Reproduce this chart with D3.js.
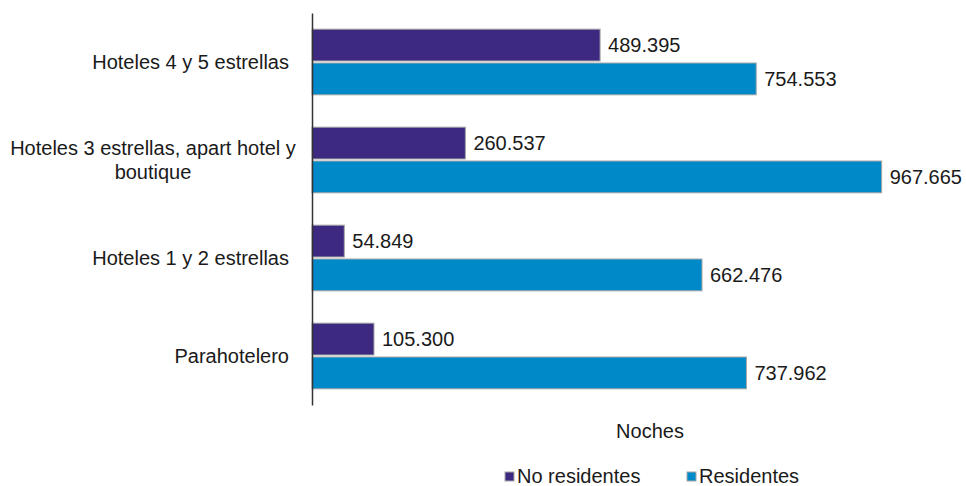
<!DOCTYPE html>
<html>
<head>
<meta charset="utf-8">
<script src="https://cdn.jsdelivr.net/npm/d3@7"></script>
<style>
  body { margin: 0; background: #fff; }
  text { font-family: "Liberation Sans", Arial, sans-serif; fill: #1a1a1a; }
</style>
</head>
<body>
<div id="chart"></div>
<script>
// categories (top to bottom) and series
var categories = ["Hoteles 4 y 5 estrellas", "Hoteles 3 estrellas, apart hotel y boutique", "Hoteles 1 y 2 estrellas", "Parahotelero"];
var catLines = [["Hoteles 4 y 5 estrellas"], ["Hoteles 3 estrellas, apart hotel y", "boutique"], ["Hoteles 1 y 2 estrellas"], ["Parahotelero"]];
var seriesNames = ["No residentes", "Residentes"];
var noResidentes = [489395, 260537, 54849, 105300];
var residentes = [754553, 967665, 662476, 737962];
var colors = ["#3d2a80", "#0089c8"];
var axisTitle = "Noches";

var width = 966, height = 486;
var plotLeft = 312, plotTop = 13, plotBottom = 405;

var fmt = function(v) { return d3.format(",")(v).replace(/,/g, "."); };

var svg = d3.select("#chart").append("svg")
    .attr("width", width)
    .attr("height", height);

// Set X
var xScale = d3.scaleLinear()
    .domain([0, 1000000])
    .range([plotLeft, plotLeft + 588.7]);

// Set Y (categories)
var yScale = d3.scaleBand()
    .domain(categories)
    .range([plotTop, plotBottom])
    .paddingInner(0.33)
    .paddingOuter(0.165);

var ySub = d3.scaleBand()
    .domain(seriesNames)
    .range([0, yScale.bandwidth()])
    .paddingInner(0.06);

var data = categories.map(function(c, i) {
    return {cat: c, values: [noResidentes[i], residentes[i]]};
});

var groups = svg.selectAll(".grp")
    .data(data)
    .enter().append("g")
    .attr("class", "grp")
    .attr("transform", function(d) { return "translate(0," + yScale(d.cat) + ")"; });

groups.selectAll("rect")
    .data(function(d) { return d.values.map(function(v, j) { return {s: seriesNames[j], v: v, j: j}; }); })
    .enter().append("rect")
    .attr("x", xScale(0))
    .attr("y", function(d) { return ySub(d.s); })
    .attr("width", function(d) { return xScale(d.v) - xScale(0); })
    .attr("height", ySub.bandwidth())
    .attr("fill", function(d) { return colors[d.j]; })
    .attr("stroke", "#a6a6a6")
    .attr("stroke-width", 1);

groups.selectAll(".val")
    .data(function(d) { return d.values.map(function(v, j) { return {s: seriesNames[j], v: v}; }); })
    .enter().append("text")
    .attr("class", "val")
    .attr("x", function(d) { return xScale(d.v) + 8; })
    .attr("y", function(d) { return ySub(d.s) + ySub.bandwidth() / 2; })
    .attr("dy", "0.35em")
    .style("font-size", "20px")
    .text(function(d) { return fmt(d.v); });

// vertical axis line
var yAxis = d3.axisLeft(yScale).tickSize(0).tickFormat("");
var axisG = svg.append("g")
    .attr("transform", "translate(" + plotLeft + ",0)")
    .call(yAxis);
axisG.select(".domain").attr("stroke", "#333").attr("stroke-width", 1.5);

// category labels
svg.selectAll(".cat")
    .data(categories)
    .enter().append("text")
    .attr("class", "cat")
    .style("font-size", "20px")
    .each(function(c, i) {
        var t = d3.select(this);
        var lines = catLines[i];
        var cy = yScale(c) + yScale.bandwidth() / 2;
        var lh = 24;
        var y0 = cy - (lines.length - 1) * lh / 2;
        if (lines.length == 1) {
            t.attr("text-anchor", "end")
             .attr("x", 289)
             .attr("y", y0)
             .attr("dy", "0.35em")
             .text(lines[0]);
        } else {
            t.attr("text-anchor", "middle");
            lines.forEach(function(l, k) {
                t.append("tspan")
                 .attr("x", 153)
                 .attr("y", y0 + k * lh)
                 .attr("dy", "0.35em")
                 .text(l);
            });
        }
    });

// axis title
svg.append("text")
    .attr("x", 650)
    .attr("y", 438)
    .attr("text-anchor", "middle")
    .style("font-size", "20px")
    .text(axisTitle);

// legend
var legendX = [505, 687];
var legend = svg.selectAll(".leg")
    .data(seriesNames)
    .enter().append("g")
    .attr("class", "leg")
    .attr("transform", function(d, i) { return "translate(" + legendX[i] + ",472)"; });
legend.append("rect")
    .attr("width", 9).attr("height", 9)
    .attr("fill", function(d, i) { return colors[i]; })
    .attr("stroke", "#a6a6a6");
legend.append("text")
    .attr("x", 12)
    .attr("y", 11)
    .style("font-size", "20px")
    .text(function(d) { return d; });
</script>
</body>
</html>
